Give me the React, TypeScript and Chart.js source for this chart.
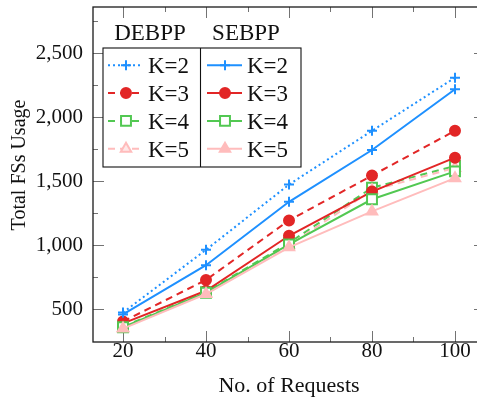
import React, { useEffect, useRef } from 'react';
import { Chart, registerables } from 'chart.js';
import { drawPoint } from 'chart.js/helpers';

Chart.register(...registerables);

// ---------- data ----------
const requests = [20, 40, 60, 80, 100];
const debppK2 = [475, 965, 1475, 1895, 2310];
const debppK3 = [405, 730, 1195, 1545, 1895];
const debppK4 = [365, 635, 1020, 1450, 1620];
const debppK5 = [355, 625, 1000, 1430, 1605];
const sebppK2 = [460, 845, 1340, 1745, 2220];
const sebppK3 = [390, 645, 1075, 1420, 1685];
const sebppK4 = [360, 630, 1008, 1360, 1578];
const sebppK5 = [350, 620, 985, 1265, 1525];
const yTicks = [500, 1000, 1500, 2000, 2500];
const yMinorTicks = [750, 1250, 1750, 2250, 2750];
const xMinorTicks = [30, 50, 70, 90];
const kLabels = ['K=2', 'K=3', 'K=4', 'K=5'];
const groupLabels = ['DEBPP', 'SEBPP'];
const xTitle = 'No. of Requests';
const yTitle = 'Total FSs Usage';

// ---------- styles ----------
const FONT = "'Liberation Serif', 'Times New Roman', serif";
const BLUE = 'rgb(30,144,255)';
const RED = 'rgb(226,38,38)';
const GREEN = 'rgb(82,200,82)';
const PINK = 'rgb(255,188,188)';
const kColors = [BLUE, RED, GREEN, PINK];
const kStyles = ['cross', 'circle', 'rect', 'triangle'];
const kRadius = [5, 5, 7, 6];
const debppDash = [[2, 3], [7, 5], [7, 5], [7, 5]];

const debppSeries = [debppK2, debppK3, debppK4, debppK5];
const sebppSeries = [sebppK2, sebppK3, sebppK4, sebppK5];

function markerFill(group: number, k: number) {
  if (k === 2) return '#ffffff';
  if (k === 3 && group === 0) return '#ffe8e8';
  return kColors[k];
}

function buildDatasets() {
  const out: any[] = [];
  const all = [debppSeries, sebppSeries];
  let idx = 0;
  all.forEach((grp, g) => {
    grp.forEach((vals, k) => {
      out.push({
        label: `${groupLabels[g]} ${kLabels[k]}`,
        data: requests.map((x, i) => ({ x, y: vals[i] })),
        borderColor: kColors[k],
        backgroundColor: kColors[k],
        borderWidth: 2,
        borderDash: g === 0 ? debppDash[k] : [],
        pointStyle: kStyles[k],
        pointRadius: kRadius[k],
        pointHoverRadius: kRadius[k],
        pointBorderWidth: 2,
        pointBorderColor: kColors[k],
        pointBackgroundColor: markerFill(g, k),
        tension: 0,
        fill: false,
        order: 20 - idx,
      });
      idx++;
    });
  });
  return out;
}

const zeroPad = () => ({ left: 0, right: 0, top: 0, bottom: 0 });

const decorPlugin = {
  id: 'decor',
  beforeDatasetsDraw(chart: any) {
    const { ctx, chartArea } = chart;
    const { left, right, top, bottom } = chartArea;
    const xs = chart.scales.x;
    const ys = chart.scales.y;
    ctx.save();
    ctx.strokeStyle = 'rgba(0,0,0,0.55)';
    ctx.lineWidth = 1;
    const vline = (px: number, y0: number, y1: number) => {
      ctx.beginPath();
      ctx.moveTo(px, y0);
      ctx.lineTo(px, y1);
      ctx.stroke();
    };
    const hline = (py: number, x0: number, x1: number) => {
      ctx.beginPath();
      ctx.moveTo(x0, py);
      ctx.lineTo(x1, py);
      ctx.stroke();
    };
    requests.forEach((v) => {
      const px = Math.round(xs.getPixelForValue(v)) + 0.5;
      vline(px, bottom, bottom - 11);
      vline(px, top, top + 11);
    });
    xMinorTicks.forEach((v) => {
      const px = Math.round(xs.getPixelForValue(v)) + 0.5;
      vline(px, bottom, bottom - 5);
      vline(px, top, top + 5);
    });
    yTicks.forEach((v) => {
      const py = Math.round(ys.getPixelForValue(v)) + 0.5;
      hline(py, left, left + 11);
      hline(py, right, right - 11);
    });
    yMinorTicks.forEach((v) => {
      const py = Math.round(ys.getPixelForValue(v)) + 0.5;
      hline(py, left, left + 5);
      hline(py, right, right - 5);
    });
    ctx.restore();
  },
  afterDraw(chart: any) {
    const { ctx, chartArea } = chart;
    const { left, right, top, bottom } = chartArea;
    ctx.save();
    // frame
    ctx.strokeStyle = '#1a1a1a';
    ctx.lineWidth = 1.3;
    ctx.strokeRect(left, top, right - left, bottom - top);

    // y title
    ctx.fillStyle = '#111';
    ctx.font = `20px ${FONT}`;
    ctx.textAlign = 'center';
    ctx.textBaseline = 'middle';
    ctx.save();
    ctx.translate(20, 165);
    ctx.rotate(-Math.PI / 2);
    ctx.fillText(yTitle, 0, 0);
    ctx.restore();

    // legend
    const bx = 103, by = 48, bw = 198, bh = 119, div = 200.5;
    ctx.fillStyle = '#ffffff';
    ctx.fillRect(bx, by, bw, bh);
    ctx.strokeStyle = '#111';
    ctx.lineWidth = 1.1;
    ctx.strokeRect(bx, by, bw, bh);
    ctx.beginPath();
    ctx.moveTo(div, by);
    ctx.lineTo(div, by + bh);
    ctx.stroke();

    ctx.font = `23px ${FONT}`;
    ctx.fillStyle = '#111';
    ctx.textBaseline = 'alphabetic';
    ctx.textAlign = 'center';
    ctx.fillText(groupLabels[0], 150, 39.5);
    ctx.fillText(groupLabels[1], 246, 39.5);

    const colX = [108, 207];
    const textX = [148, 247];
    kLabels.forEach((lab, k) => {
      const base = 73.3 + k * 27.8;
      const cy = base - 8;
      [0, 1].forEach((g) => {
        const x0 = colX[g];
        ctx.save();
        ctx.strokeStyle = kColors[k];
        ctx.lineWidth = 2;
        ctx.setLineDash(g === 0 ? debppDash[k] : []);
        ctx.beginPath();
        ctx.moveTo(x0, cy);
        ctx.lineTo(x0 + 35, cy);
        ctx.stroke();
        ctx.restore();
        ctx.save();
        ctx.strokeStyle = kColors[k];
        ctx.fillStyle = markerFill(g, k);
        ctx.lineWidth = 2;
        drawPoint(ctx, { pointStyle: kStyles[k], radius: kRadius[k], rotation: 0, borderWidth: 2 } as any, x0 + 18, cy);
        ctx.restore();
        ctx.fillStyle = '#111';
        ctx.textAlign = 'left';
        ctx.font = `23px ${FONT}`;
        ctx.fillText(lab, textX[g], base);
      });
    });
    ctx.restore();
  },
};

export default function App() {
  const ref = useRef<HTMLCanvasElement | null>(null);
  useEffect(() => {
    if (!ref.current) return;
    const chart = new Chart(ref.current, {
      type: 'line',
      data: { datasets: buildDatasets() },
      options: {
        responsive: false,
        animation: false,
        devicePixelRatio: 1,
        layout: { autoPadding: false, padding: { left: 0, right: 5, top: 7, bottom: 0 } },
        plugins: { legend: { display: false }, tooltip: { enabled: false } },
        scales: {
          x: {
            type: 'linear',
            min: 12.77,
            max: 107.23,
            grid: { display: false, drawTicks: false },
            border: { display: false },
            afterBuildTicks: (axis: any) => {
              axis.ticks = requests.map((v) => ({ value: v }));
            },
            afterFit: (axis: any) => {
              axis.height = 61;
              axis.paddingLeft = 0;
              axis.paddingRight = 0;
              axis.getPadding = zeroPad;
            },
            ticks: {
              color: '#111',
              font: { family: FONT, size: 21 },
              padding: -3,
              maxRotation: 0,
              autoSkip: false,
              callback: (v: any) => String(v),
            },
            title: {
              display: true,
              text: xTitle,
              color: '#111',
              font: { family: FONT, size: 22 },
              padding: { top: 0, bottom: 4 },
            },
          },
          y: {
            type: 'linear',
            min: 245,
            max: 2862,
            grid: { display: false, drawTicks: false },
            border: { display: false },
            afterBuildTicks: (axis: any) => {
              axis.ticks = yTicks.map((v) => ({ value: v }));
            },
            afterFit: (axis: any) => {
              axis.width = 93;
              axis.paddingTop = 0;
              axis.paddingBottom = 0;
              axis.getPadding = zeroPad;
            },
            ticks: {
              color: '#111',
              font: { family: FONT, size: 21 },
              padding: 10,
              autoSkip: false,
              callback: (v: any) => Number(v).toLocaleString('en-US'),
            },
          },
        },
      },
      plugins: [decorPlugin],
    } as any);
    return () => chart.destroy();
  }, []);
  return (
    <div
      style={{
        position: 'fixed',
        left: 0,
        top: 0,
        width: 477,
        height: 403,
        overflow: 'hidden',
        background: '#fff',
      }}
    >
      <canvas ref={ref} width={490} height={403} style={{ display: 'block', width: 490, height: 403 }} />
    </div>
  );
}
